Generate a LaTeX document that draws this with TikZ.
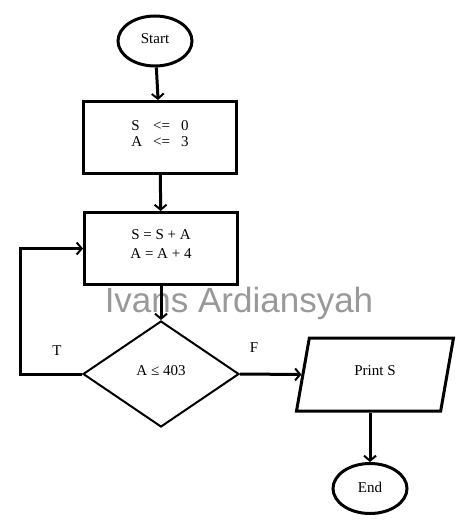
\documentclass[tikz,border=0pt]{standalone}
\usepackage{fontspec}
\setmainfont{Liberation Serif}
\newfontfamily\wmfont{Liberation Sans}
\usetikzlibrary{shapes.geometric,arrows.meta}
\definecolor{wmgray}{RGB}{153,153,153}
\def\lift#1#2{\raisebox{#1}[\height][\depth]{#2}}
\tikzset{
	terminal/.style={draw,ellipse,line width=3pt,minimum width=74pt,minimum height=50pt,inner sep=0pt},
	process/.style={draw,rectangle,line width=3pt,minimum width=153pt,minimum height=72pt,align=center},
	decision/.style={draw,diamond,line width=2pt,minimum width=156pt,minimum height=106pt,inner sep=2pt},
	output/.style={draw,trapezium,trapezium left angle=74,trapezium right angle=106,trapezium stretches=true,line width=3pt,minimum width=157pt,minimum height=73pt,inner sep=3pt},
	flow/.style={line width=3pt,-{Straight Barb[length=5pt,width=12pt,line width=2pt]}}
}
\begin{document}
\begin{tikzpicture}[x=1pt,y=-1pt,font=\fontsize{15pt}{18pt}\selectfont]
	\useasboundingbox (0,0) rectangle (468,530);
	
	%Khung
	\node (start) at (155,41)[terminal]{\lift{2pt}{Start}};
	\node (init) at (160,137.5)[process]{\lift{3pt}{%
		\begin{tabular}{@{}l@{\hspace{11pt}}c@{\hspace{11pt}}l@{}}
			S & <= & 0\\[-2pt]
			A & <= & 3
		\end{tabular}}};
	\node (loopbody) at (161,248.5)[process]{\lift{3pt}{%
		\begin{tabular}{@{}c@{}}
			S = S + A\\[1pt]
			A = A + 4
		\end{tabular}}};
	\node (test) at (161,374)[decision]{\lift{3pt}{A ≤ 403}};
	\node (print) at (375,374.5)[output]{\lift{4pt}{Print S}};
	\node (end) at (370,488.5)[terminal]{\lift{1pt}{End}};
	
	%Chu
	\node (labT) at (57,351){T};
	\node (labF) at (254,348){F};
	\node (mark) at (239,312)[anchor=base,text=wmgray,font=\wmfont\fontsize{35pt}{40pt}\selectfont]{Ivans Ardiansyah};
	
	%---------------mui ten
	\coordinate (back) at (20,374);
	\draw[flow] (start) -- (init);
	\draw[flow] (init) -- (loopbody);
	\draw[flow] (loopbody) -- (test);
	\draw[flow] (test.east) -- (print.west);
	\draw[flow] (end.north |- print.south) -- (end.north);
	\draw[flow] (test.west) -- (back) |- (loopbody.west);
\end{tikzpicture}
\end{document}
